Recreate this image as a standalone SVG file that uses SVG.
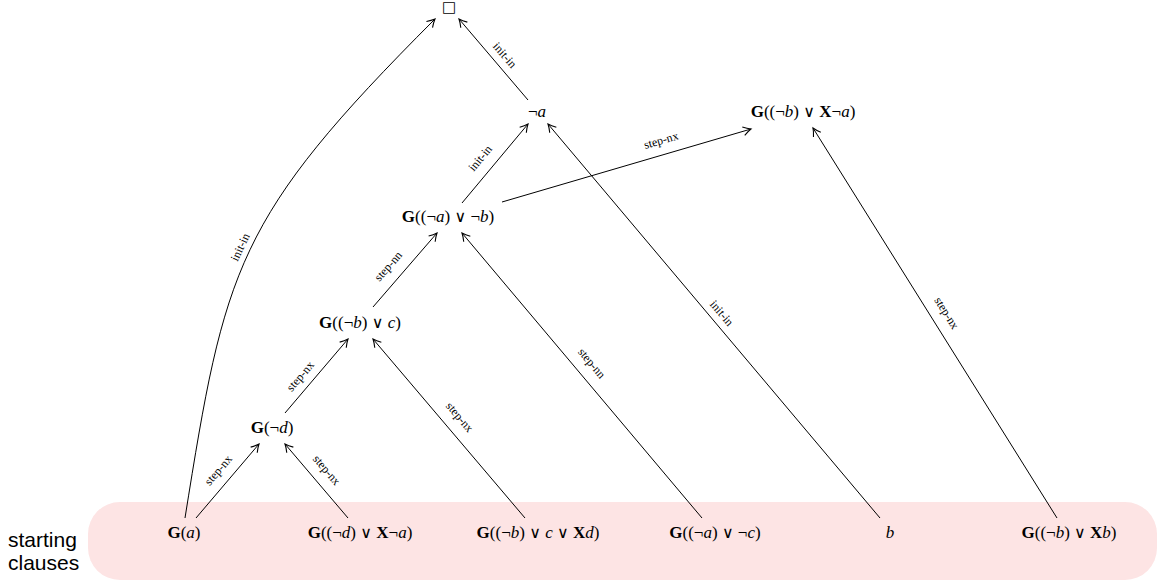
<svg xmlns="http://www.w3.org/2000/svg" width="1161" height="584" viewBox="0 0 1161 584">
  <style>
    .math { font-family: "Liberation Serif", "DejaVu Serif", serif; font-size: 17px; fill: #000; text-anchor: middle; }
    .b { font-weight: bold; }
    .i { font-style: italic; }
    .or { font-family: "DejaVu Sans", sans-serif; font-size: 16px; }
    .lbl { font-family: "Liberation Serif", serif; font-size: 12px; fill: #000; text-anchor: middle; }
    .side { font-family: "Liberation Sans", Arial, sans-serif; font-size: 21px; fill: #000; }
    .edge { fill: none; stroke: #000; stroke-width: 1; marker-end: url(#arr); }
  </style>
  <defs>
    <marker id="arr" markerUnits="userSpaceOnUse" markerWidth="12" markerHeight="12" viewBox="-8 -5 10 10" refX="0" refY="0" orient="auto">
      <path d="M -6.5 -3.6 Q -3 -1.2 0 0 Q -3 1.2 -6.5 3.6" fill="none" stroke="#000" stroke-width="0.9"/>
    </marker>
  </defs>

  <!-- band holding the starting clauses -->
  <rect x="88" y="502" width="1069" height="78" rx="32" ry="32" fill="#fde4e4"/>
  <text class="side" x="8" y="547">starting</text>
  <text class="side" x="8" y="570">clauses</text>

  <!-- connectors -->
  <g id="edges">
    <line class="edge" x1="528" y1="100" x2="459" y2="19"/>
    <path class="edge" d="M185,518 C225,268 235,219 435,19"/>
    <line class="edge" x1="462" y1="203" x2="528" y2="124"/>
    <line class="edge" x1="880" y1="518" x2="548" y2="124"/>
    <line class="edge" x1="502" y1="202" x2="751" y2="129"/>
    <line class="edge" x1="1057" y1="518" x2="813" y2="128"/>
    <line class="edge" x1="373" y1="307" x2="437" y2="233"/>
    <line class="edge" x1="702" y1="518" x2="462" y2="233"/>
    <line class="edge" x1="285" y1="413" x2="348" y2="339"/>
    <line class="edge" x1="525" y1="518" x2="373" y2="339"/>
    <line class="edge" x1="196" y1="518" x2="259" y2="444"/>
    <line class="edge" x1="348" y1="518" x2="285" y2="444"/>

    <text class="lbl" transform="translate(505,55) rotate(49.6)" dy="0.35em">init-in</text>
    <text class="lbl" transform="translate(240,247) rotate(-64.6)" dy="0.35em">init-in</text>
    <text class="lbl" transform="translate(480,158) rotate(-50.1)" dy="0.35em">init-in</text>
    <text class="lbl" transform="translate(722,313) rotate(49.9)" dy="0.35em">init-in</text>
    <text class="lbl" transform="translate(661,140) rotate(-16.3)" dy="0.35em">step-nx</text>
    <text class="lbl" transform="translate(947,313) rotate(58)" dy="0.35em">step-nx</text>
    <text class="lbl" transform="translate(388,266) rotate(-49)" dy="0.35em">step-nn</text>
    <text class="lbl" transform="translate(592,363) rotate(49.9)" dy="0.35em">step-nn</text>
    <text class="lbl" transform="translate(300,376) rotate(-49.6)" dy="0.35em">step-nx</text>
    <text class="lbl" transform="translate(460,417) rotate(49.7)" dy="0.35em">step-nx</text>
    <text class="lbl" transform="translate(218,470) rotate(-49.6)" dy="0.35em">step-nx</text>
    <text class="lbl" transform="translate(327,470) rotate(49.6)" dy="0.35em">step-nx</text>
  </g>

  <!-- derived clauses -->
  <g id="n-empty"><text x="449" y="12" style="font-family:'DejaVu Sans',sans-serif;font-size:15px;text-anchor:middle">□</text></g>
  <g id="n-not-a"><text class="math" x="537" y="117">¬<tspan class="i">a</tspan></text></g>
  <g id="n-nb-xna"><text class="math" x="803" y="117"><tspan class="b">G</tspan>((¬<tspan class="i">b</tspan>) <tspan class="or">∨</tspan> <tspan class="b">X</tspan>¬<tspan class="i">a</tspan>)</text></g>
  <g id="n-na-nb"><text class="math" x="448" y="222"><tspan class="b">G</tspan>((¬<tspan class="i">a</tspan>) <tspan class="or">∨</tspan> ¬<tspan class="i">b</tspan>)</text></g>
  <g id="n-nb-c"><text class="math" x="360" y="328"><tspan class="b">G</tspan>((¬<tspan class="i">b</tspan>) <tspan class="or">∨</tspan> <tspan class="i">c</tspan>)</text></g>
  <g id="n-nd"><text class="math" x="272" y="433"><tspan class="b">G</tspan>(¬<tspan class="i">d</tspan>)</text></g>

  <!-- starting clauses -->
  <g id="s-a"><text class="math" x="184" y="538"><tspan class="b">G</tspan>(<tspan class="i">a</tspan>)</text></g>
  <g id="s-nd-xna"><text class="math" x="360" y="538"><tspan class="b">G</tspan>((¬<tspan class="i">d</tspan>) <tspan class="or">∨</tspan> <tspan class="b">X</tspan>¬<tspan class="i">a</tspan>)</text></g>
  <g id="s-nb-c-xd"><text class="math" x="538" y="538"><tspan class="b">G</tspan>((¬<tspan class="i">b</tspan>) <tspan class="or">∨</tspan> <tspan class="i">c</tspan> <tspan class="or">∨</tspan> <tspan class="b">X</tspan><tspan class="i">d</tspan>)</text></g>
  <g id="s-na-nc"><text class="math" x="715" y="538"><tspan class="b">G</tspan>((¬<tspan class="i">a</tspan>) <tspan class="or">∨</tspan> ¬<tspan class="i">c</tspan>)</text></g>
  <g id="s-b"><text class="math" x="890" y="538"><tspan class="i">b</tspan></text></g>
  <g id="s-nb-xb"><text class="math" x="1069" y="538"><tspan class="b">G</tspan>((¬<tspan class="i">b</tspan>) <tspan class="or">∨</tspan> <tspan class="b">X</tspan><tspan class="i">b</tspan>)</text></g>
</svg>
